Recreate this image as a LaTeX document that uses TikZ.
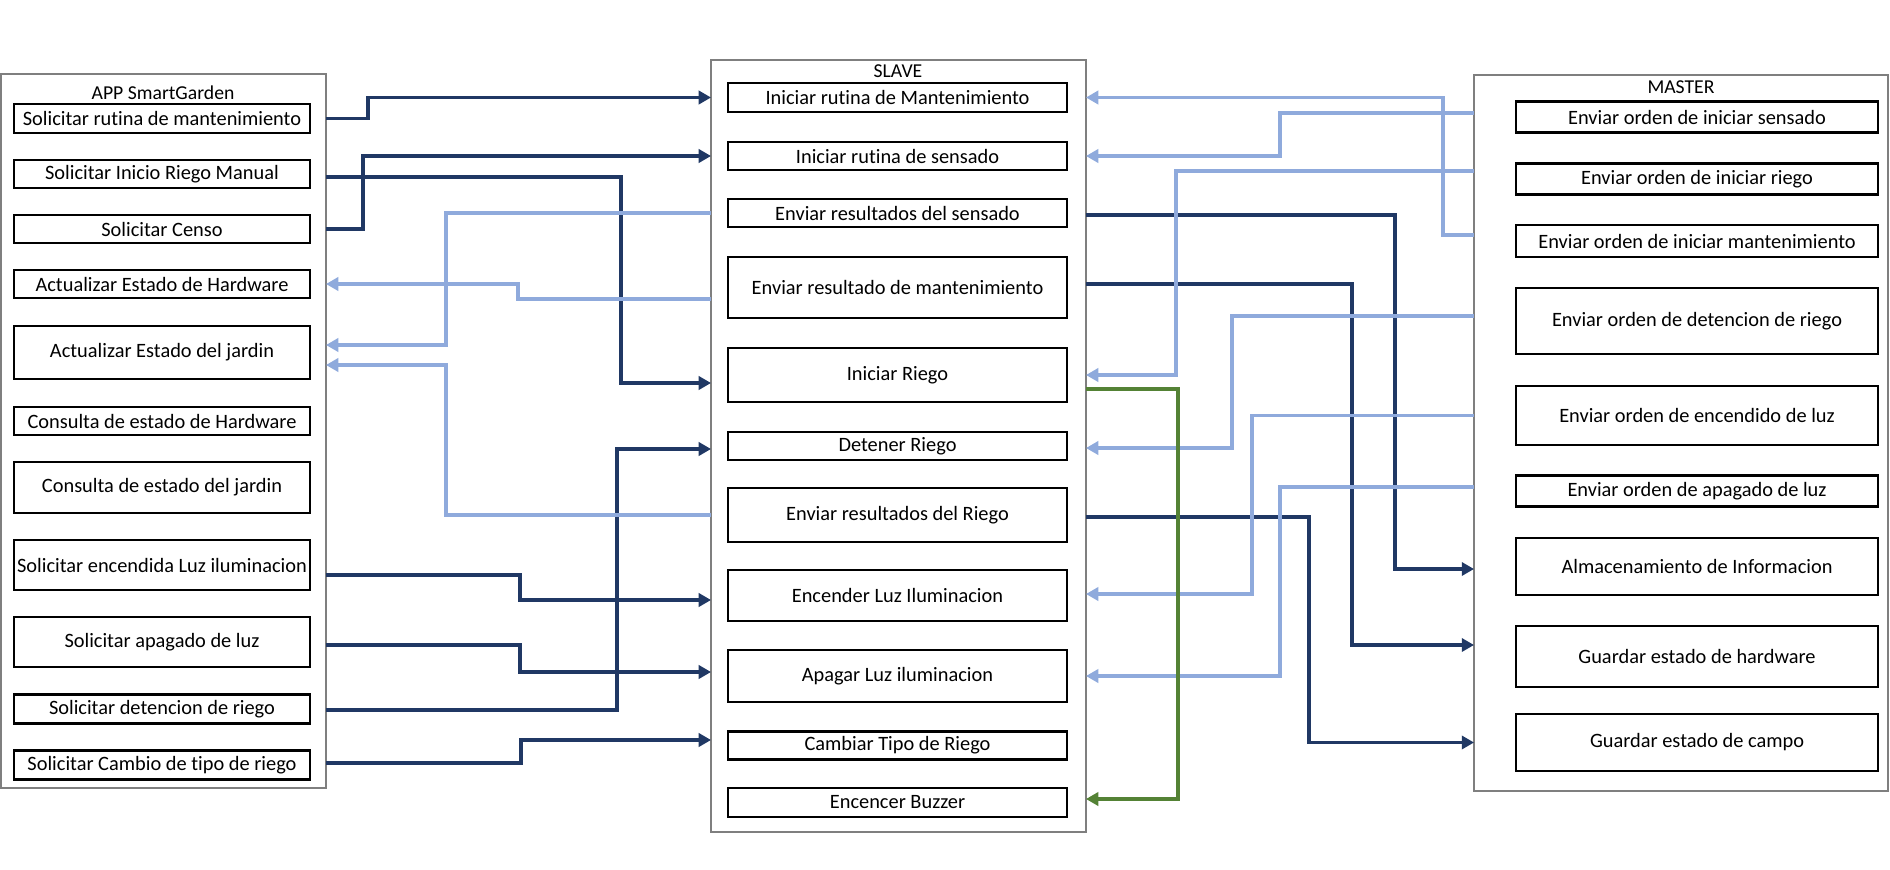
\documentclass[tikz,border=0pt]{standalone}
\usepackage{fontspec}
\setmainfont[Ligatures=NoCommon]{Carlito}
\usetikzlibrary{arrows.meta,calc}
\definecolor{navy}{HTML}{203864}
\definecolor{celeste}{HTML}{8FAADC}
\definecolor{verde}{HTML}{548235}
\definecolor{gris}{HTML}{7F7F7F}

\begin{document}
\begin{tikzpicture}[x=0.02cm,y=-0.02cm,
    panel/.style={draw=gris,line width=1pt,inner sep=0pt,outer sep=0pt},
    titulo/.style={inner sep=0pt,font=\fontsize{11.2}{13}\selectfont},
    caja/.style={draw=black,line width=1.6pt,inner sep=0pt,outer sep=0pt,font=\fontsize{11.6}{13}\selectfont},
    appbox/.style={caja,minimum width=5.92cm},
    slavebox/.style={caja,minimum width=6.78cm},
    masterbox/.style={caja,minimum width=7.24cm},
    darkline/.style={draw=navy,line width=2.2pt,-{Triangle[length=7pt,width=7.5pt]}},
    lightline/.style={draw=celeste,line width=2.2pt,-{Triangle[length=7pt,width=7.5pt]}},
    greenline/.style={draw=verde,line width=2.2pt,-{Triangle[length=7pt,width=7.5pt]}}]
      \useasboundingbox (0,0) rectangle (1890,869);

      % Containers.
      \node[panel,minimum width=6.5cm,minimum height=14.28cm] (app) at (163.5,431) {};
      \node[panel,minimum width=7.5cm,minimum height=15.44cm] (slave) at (898.5,446) {};
      \node[panel,minimum width=8.28cm,minimum height=14.32cm] (master) at (1681,433) {};
      \node[titulo] (apptitle) at (163,93) {APP SmartGarden};
      \node[titulo] (slavetitle) at (898,71) {SLAVE};
      \node[titulo] (mastertitle) at (1681,87) {MASTER};

      % APP boxes.
      \node[appbox,minimum height=0.58cm] (a1) at (162,118.5) {Solicitar rutina de mantenimiento};
      \node[appbox,minimum height=0.56cm] (a2) at (162,174) {Solicitar Inicio Riego Manual};
      \node[appbox,minimum height=0.56cm] (a3) at (162,229) {Solicitar Censo};
      \node[appbox,minimum height=0.56cm] (a4) at (162,284) {Actualizar Estado de Hardware};
      \node[appbox,minimum height=1.06cm] (a5) at (162,352.5) {Actualizar Estado del jardin};
      \node[appbox,minimum height=0.56cm] (a6) at (162,421) {Consulta de estado de Hardware};
      \node[appbox,minimum height=1.02cm] (a7) at (162,487.5) {Consulta de estado del jardin};
      \node[appbox,minimum height=1.0cm] (a8) at (162,565) {Solicitar encendida Luz iluminacion};
      \node[appbox,minimum height=1.0cm] (a9) at (162,642) {Solicitar apagado de luz};
      \node[appbox,minimum height=0.58cm] (a10) at (162,709) {Solicitar detencion de riego};
      \node[appbox,minimum height=0.58cm] (a11) at (162,765) {Solicitar Cambio de tipo de riego};

      % SLAVE boxes.
      \node[slavebox,minimum height=0.58cm] (s1) at (897.5,97.5) {Iniciar rutina de Mantenimiento};
      \node[slavebox,minimum height=0.56cm] (s2) at (897.5,156) {Iniciar rutina de sensado};
      \node[slavebox,minimum height=0.56cm] (s3) at (897.5,213) {Enviar resultados del sensado};
      \node[slavebox,minimum height=1.22cm] (s4) at (897.5,287.5) {Enviar resultado de mantenimiento};
      \node[slavebox,minimum height=1.08cm] (s5) at (897.5,375) {Iniciar Riego};
      \node[slavebox,minimum height=0.56cm] (s6) at (897.5,446) {Detener Riego};
      \node[slavebox,minimum height=1.08cm] (s7) at (897.5,515) {Enviar resultados del Riego};
      \node[slavebox,minimum height=1.02cm] (s8) at (897.5,595.5) {Encender Luz Iluminacion};
      \node[slavebox,minimum height=1.04cm] (s9) at (897.5,676) {Apagar Luz iluminacion};
      \node[slavebox,minimum height=0.56cm] (s10) at (897.5,745.5) {Cambiar Tipo de Riego};
      \node[slavebox,minimum height=0.58cm] (s11) at (897.5,802.5) {Encencer Buzzer};

      % MASTER boxes.
      \node[masterbox,minimum height=0.62cm] (m1) at (1697,117) {Enviar orden de iniciar sensado};
      \node[masterbox,minimum height=0.62cm] (m2) at (1697,179) {Enviar orden de iniciar riego};
      \node[masterbox,minimum height=0.64cm] (m3) at (1697,241) {Enviar orden de iniciar mantenimiento};
      \node[masterbox,minimum height=1.32cm] (m4) at (1697,321) {Enviar orden de detencion de riego};
      \node[masterbox,minimum height=1.18cm] (m5) at (1697,415.5) {Enviar orden de encendido de luz};
      \node[masterbox,minimum height=0.62cm] (m6) at (1697,491) {Enviar orden de apagado de luz};
      \node[masterbox,minimum height=1.14cm] (m7) at (1697,566.5) {Almacenamiento de Informacion};
      \node[masterbox,minimum height=1.22cm] (m8) at (1697,656.5) {Guardar estado de hardware};
      \node[masterbox,minimum height=1.14cm] (m9) at (1697,742.5) {Guardar estado de campo};

      % APP -> SLAVE.
      \draw[darkline] (app.east |- a1) -- ++(42,0) |- (slave.west |- s1);
      \draw[darkline] ($(app.east |- a2)+(0,3)$) -- ++(295,0) |- ($(slave.west |- s5)+(0,8)$);
      \draw[darkline] (app.east |- a3) -- ++(37,0) |- (slave.west |- s2);
      \draw[darkline] ($(app.east |- a8)+(0,10)$) -- ++(194,0) |- ($(slave.west |- s8)+(0,4.5)$);
      \draw[darkline] ($(app.east |- a9)+(0,3)$) -- ++(194,0) |- ($(slave.west |- s9)+(0,-4)$);
      \draw[darkline] ($(app.east |- a10)+(0,1)$) -- ++(291,0) |- ($(slave.west |- s6)+(0,3)$);
      \draw[darkline] ($(app.east |- a11)+(0,-2)$) -- ++(195,0) |- ($(slave.west |- s10)+(0,-5.5)$);

      % SLAVE -> MASTER.
      \draw[darkline] ($(slave.east |- s3)+(0,2)$) -- ++(309,0) |- ($(master.west |- m7)+(0,2.5)$);
      \draw[darkline] ($(slave.east |- s4)+(0,-3.5)$) -- ++(266,0) |- ($(master.west |- m8)+(0,-11.5)$);
      \draw[darkline] ($(slave.east |- s7)+(0,2)$) -- ++(223,0) |- (master.west |- m9);

      % SLAVE -> APP.
      \draw[lightline] ($(slave.west |- s4)+(0,11.5)$) -- ++(-193,0) |- (app.east |- a4);
      \draw[lightline] (slave.west |- s3) -- ++(-265,0) |- ($(app.east |- a5)+(0,-7.5)$);
      \draw[lightline] (slave.west |- s7) -- ++(-265,0) |- ($(app.east |- a5)+(0,12.5)$);

      % MASTER -> SLAVE.
      \draw[lightline] ($(master.west |- m3)+(0,-6)$) -- ++(-31,0) |- (slave.east |- s1);
      \draw[lightline] ($(master.west |- m1)+(0,-4)$) -- ++(-194,0) |- (slave.east |- s2);
      \draw[lightline] ($(master.west |- m2)+(0,-8)$) -- ++(-298,0) |- (slave.east |- s5);
      \draw[lightline] ($(master.west |- m4)+(0,-5)$) -- ++(-242,0) |- ($(slave.east |- s6)+(0,2)$);
      \draw[lightline] (master.west |- m5) -- ++(-222,0) |- ($(slave.east |- s8)+(0,-1.5)$);
      \draw[lightline] ($(master.west |- m6)+(0,-4)$) -- ++(-194,0) |- (slave.east |- s9);

      % Riego -> Buzzer.
      \draw[greenline] ($(slave.east |- s5)+(0,14)$) -- ++(92,0) |- ($(slave.east |- s11)+(0,-3.5)$);
\end{tikzpicture}
\end{document}
